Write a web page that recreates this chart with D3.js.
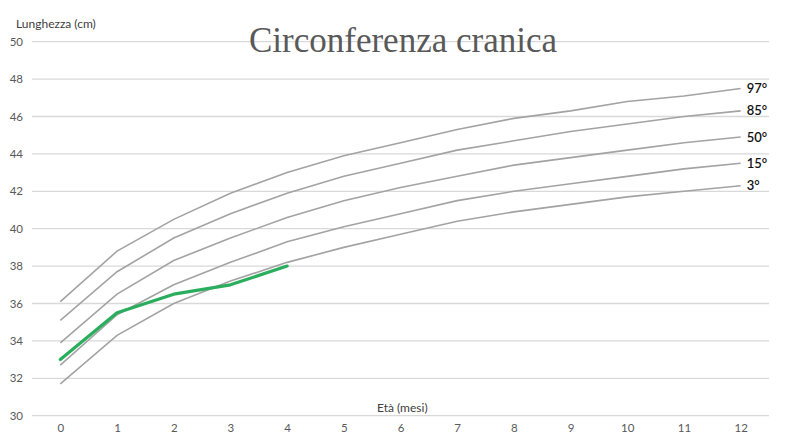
<!DOCTYPE html>
<html>
<head>
<meta charset="utf-8">
<script src="https://cdn.jsdelivr.net/npm/d3@7"></script>
<style>
  html, body { margin: 0; padding: 0; background: #fff; }
  svg { display: block; }
</style>
</head>
<body>
<svg id="chart" width="787" height="444"></svg>
<script>
// ---- data ----
const months = [0, 1, 2, 3, 4, 5, 6, 7, 8, 9, 10, 11, 12];
const yTicks = [30, 32, 34, 36, 38, 40, 42, 44, 46, 48, 50];
const p3  = [31.7, 34.3, 36.0, 37.2, 38.2, 39.0, 39.7, 40.4, 40.9, 41.3, 41.7, 42.0, 42.3];
const p15 = [32.7, 35.4, 37.0, 38.2, 39.3, 40.1, 40.8, 41.5, 42.0, 42.4, 42.8, 43.2, 43.5];
const p50 = [33.9, 36.5, 38.3, 39.5, 40.6, 41.5, 42.2, 42.8, 43.4, 43.8, 44.2, 44.6, 44.9];
const p85 = [35.1, 37.7, 39.5, 40.8, 41.9, 42.8, 43.5, 44.2, 44.7, 45.2, 45.6, 46.0, 46.3];
const p97 = [36.1, 38.8, 40.5, 41.9, 43.0, 43.9, 44.6, 45.3, 45.9, 46.3, 46.8, 47.1, 47.5];
const percentileLabels = ["3°", "15°", "50°", "85°", "97°"];
const childMonths = [0, 1, 2, 3, 4];
const childValues = [33.0, 35.5, 36.5, 37.0, 38.0];
const title = "Circonferenza cranica";
const yTitle = "Lunghezza (cm)";
const xTitle = "Età (mesi)";

// ---- layout ----
const svg = d3.select("#chart");
const plotLeft = 32, plotRight = 769, plotTop = 41.7, plotBottom = 415.7;

const x = d3.scalePoint().domain(months).range([plotLeft, plotRight]).padding(0.5);
const y = d3.scaleLinear().domain([30, 50]).range([plotBottom, plotTop]);

// gridlines
svg.append("g")
  .selectAll("line").data(yTicks).join("line")
  .attr("x1", plotLeft).attr("x2", plotRight)
  .attr("y1", d => y(d)).attr("y2", d => y(d))
  .attr("stroke", "#d9d9d9").attr("stroke-width", 1.3);

// y axis labels
const yAxis = d3.axisLeft(y).tickValues(yTicks).tickSize(0).tickPadding(0);
svg.append("g").attr("transform", `translate(23,0)`).call(yAxis)
  .call(g => g.select(".domain").remove())
  .selectAll("text")
  .attr("font-family", "Lato, 'Open Sans', sans-serif")
  .attr("font-size", 11.5).attr("fill", "#595959");

// x axis labels
const xAxis = d3.axisBottom(x).tickSize(0).tickPadding(0);
svg.append("g").attr("transform", `translate(0,424)`).call(xAxis)
  .call(g => g.select(".domain").remove())
  .selectAll("text")
  .attr("font-family", "Lato, 'Open Sans', sans-serif")
  .attr("font-size", 11.5).attr("fill", "#595959");

// percentile curves
const line = d3.line().x((d, i) => x(months[i])).y(d => y(d));
const series = [p3, p15, p50, p85, p97];
svg.append("g").selectAll("path").data(series).join("path")
  .attr("d", d => line(d))
  .attr("fill", "none").attr("stroke", "#a3a3a3").attr("stroke-width", 1.6);

// percentile labels
svg.append("g").selectAll("text").data(series).join("text")
  .attr("x", x(12) + 6)
  .attr("y", d => y(d[d.length - 1]) + 4.5)
  .attr("font-family", "Lato, 'Open Sans', sans-serif")
  .attr("font-size", 13).attr("font-weight", 600).attr("fill", "#111")
  .text((d, i) => percentileLabels[i]);

// child line
const childLine = d3.line().x((d, i) => x(childMonths[i])).y(d => y(d));
svg.append("path").attr("d", childLine(childValues))
  .attr("fill", "none").attr("stroke", "#2aae5e").attr("stroke-width", 3.2)
  .attr("stroke-linejoin", "round").attr("stroke-linecap", "round");

// titles
svg.append("text").attr("x", 403).attr("y", 52).attr("text-anchor", "middle")
  .attr("font-family", "'Liberation Serif', 'DejaVu Serif', serif")
  .attr("font-size", 35).attr("fill", "#595959").text(title);

svg.append("text").attr("x", 16).attr("y", 28)
  .attr("font-family", "Lato, 'Open Sans', sans-serif")
  .attr("font-size", 12).attr("fill", "#404040").text(yTitle);

svg.append("text").attr("x", 377).attr("y", 412)
  .attr("font-family", "Lato, 'Open Sans', sans-serif")
  .attr("font-size", 12).attr("fill", "#404040").text(xTitle);
</script>
</body>
</html>
